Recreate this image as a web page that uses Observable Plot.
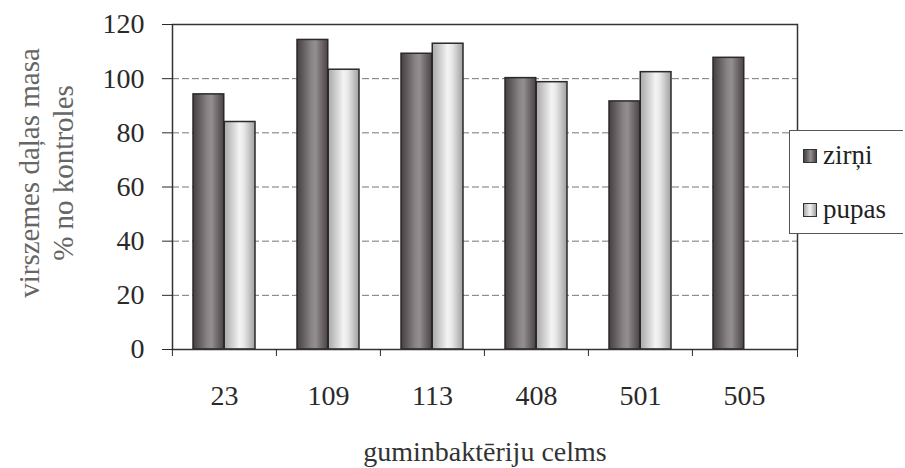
<!DOCTYPE html>
<html>
<head>
<meta charset="utf-8">
<script src="https://cdn.jsdelivr.net/npm/d3@7"></script>
<script src="https://cdn.jsdelivr.net/npm/@observablehq/plot@0.6"></script>
<style>
  html, body { margin: 0; padding: 0; background: #fff; }
  #wrap { position: relative; width: 905px; height: 468px; font-family: "Liberation Serif", "DejaVu Serif", serif; }
  #legend { position: absolute; left: 789px; top: 130px; width: 114px; height: 104px; border: 1px solid #555; border-right: none; background: #fff; box-sizing: border-box; font-size: 27px; color: #222; }
  .item { position: absolute; left: 13px; display: flex; align-items: center; }
  .sw { width: 14px; height: 14px; border: 1.5px solid #333; margin-right: 6px; box-sizing: border-box; }
  svg text { font-family: "Liberation Serif", serif; }
</style>
</head>
<body>
<div id="wrap"><div id="chart"></div>
<div id="legend"></div></div>
<script>
const categories = ["23", "109", "113", "408", "501", "505"];
const seriesNames = ["zirņi", "pupas"];
const zirni = [94.2, 114.3, 109.2, 100.2, 91.6, 107.7];
const pupas = [84.0, 103.3, 112.9, 98.7, 102.4, null];
const yTicks = [0, 20, 40, 60, 80, 100, 120];
const xLabel = "guminbaktēriju celms";
const yLabel = "virszemes daļas masa\n% no kontroles";

const W = 905, H = 468, mL = 172, mR = 108, mT = 24, mB = 119;
const pIn = 0.4, pOut = 0.2;
const step = (W - mL - mR) / (categories.length - pIn + 2 * pOut);
const half = step * (1 - pIn) / 2;

const zData = categories.map((c, i) => ({cat: c, v: zirni[i]}));
const pData = categories.map((c, i) => ({cat: c, v: pupas[i]})).filter(d => d.v != null);

const chart = Plot.plot({
  width: W, height: H,
  marginLeft: mL, marginRight: mR, marginTop: mT, marginBottom: mB,
  style: {fontFamily: "Liberation Serif", color: "#2a2a2a", background: "#fff"},
  x: {type: "band", domain: categories, paddingInner: pIn, paddingOuter: pOut},
  y: {domain: [0, 120]},
  marks: [
    Plot.ruleY(yTicks.slice(1, -1), {stroke: "#777", strokeWidth: 1, strokeDasharray: "7,3"}),
    Plot.barY(zData, {x: "cat", y: "v", fill: "url(#gz)", stroke: "#2a2a2a", strokeWidth: 1.5, insetRight: half, insetLeft: 0}),
    Plot.barY(pData, {x: "cat", y: "v", fill: "url(#gp)", stroke: "#2a2a2a", strokeWidth: 1.5, insetLeft: half, insetRight: 0}),
    Plot.frame({stroke: "#333", strokeWidth: 1.5}),
    Plot.frame({anchor: "right", stroke: "#333", insetBottom: -7}),
    Plot.axisY({ticks: yTicks, tickSize: 10, tickPadding: 18, fontSize: 28, label: null}),
    Plot.text([yLabel], {frameAnchor: "left", textAnchor: "middle", rotate: -90, dx: -127, dy: -14, fontSize: 29, lineHeight: 1.17, fill: "#666"}),
    Plot.axisX({tickSize: 0, tickPadding: 36, fontSize: 28, label: xLabel, labelAnchor: "center", labelOffset: 111, labelArrow: "none"}),
    Plot.axisX({tickSize: 7, dx: -step / 2, tickFormat: () => "", label: null})
  ]
});

// gradients
const ns = "http://www.w3.org/2000/svg";
const defs = document.createElementNS(ns, "defs");
function grad(id, stops) {
  const g = document.createElementNS(ns, "linearGradient");
  g.setAttribute("id", id);
  g.setAttribute("x1", "0"); g.setAttribute("x2", "1"); g.setAttribute("y1", "0"); g.setAttribute("y2", "0");
  for (const [o, c] of stops) {
    const s = document.createElementNS(ns, "stop");
    s.setAttribute("offset", o); s.setAttribute("stop-color", c);
    g.appendChild(s);
  }
  defs.appendChild(g);
}
grad("gz", [["0", "#463e41"], ["0.45", "#878284"], ["0.6", "#938e90"], ["1", "#4b4245"]]);
grad("gp", [["0", "#a9a9a9"], ["0.5", "#f4f4f4"], ["0.65", "#e6e6e6"], ["1", "#a0a0a0"]]);
chart.insertBefore(defs, chart.firstChild);

chart.querySelectorAll('[aria-label="x-axis label"] text, [aria-label="x-axis label"]').forEach(e => { e.setAttribute("fill", "#333"); e.setAttribute("font-size", "28"); });

document.getElementById("chart").appendChild(chart);

// legend
const leg = document.getElementById("legend");
const bgs = ["linear-gradient(90deg,#463e41,#938e90 55%,#4b4245)", "linear-gradient(90deg,#a9a9a9,#f4f4f4 50%,#a0a0a0)"];
seriesNames.forEach((name, i) => {
  const it = document.createElement("div");
  it.className = "item";
  it.style.top = (i === 0 ? 9 : 63) + "px";
  const sw = document.createElement("span");
  sw.className = "sw";
  sw.style.background = bgs[i];
  const t = document.createElement("span");
  t.textContent = name;
  it.appendChild(sw); it.appendChild(t);
  leg.appendChild(it);
});
</script>
</body>
</html>
